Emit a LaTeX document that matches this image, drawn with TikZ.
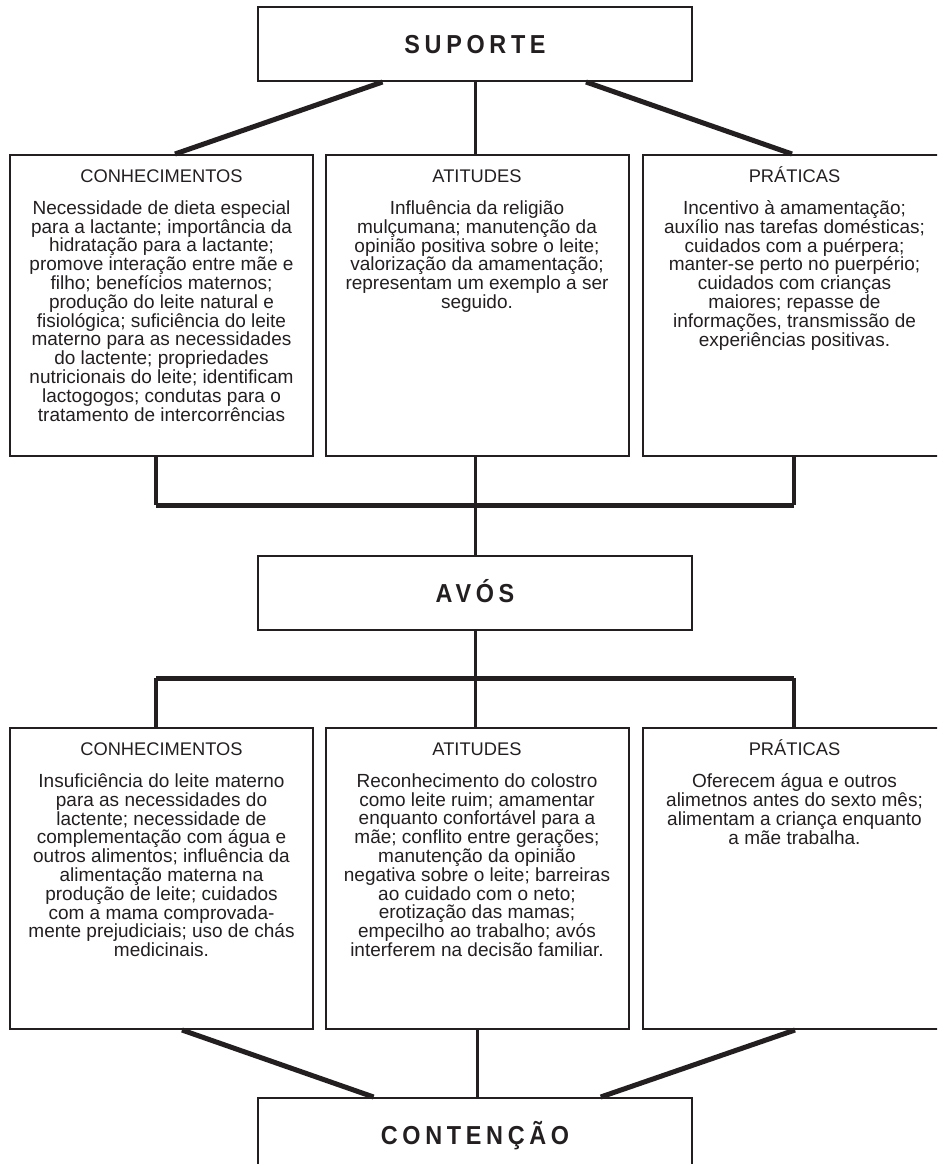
\documentclass[tikz,border=0pt]{standalone}
\usepackage{fontspec}
\setmainfont{Liberation Sans}
\newfontfamily\titlefont[LetterSpace=18,FakeStretch=0.9]{Liberation Sans}
\usepackage{tikz}
\usetikzlibrary{calc}
\usetikzlibrary{positioning}
\definecolor{ink}{HTML}{231F20}

\begin{document}
\begin{tikzpicture}[x=1pt,y=-1pt,
    title/.style={draw=ink,line width=2pt,fill=white,minimum width=434pt,minimum height=74pt,inner sep=0pt,text height=19pt,text depth=0pt,text=ink,font=\titlefont\bfseries\fontsize{26}{30}\selectfont},
    panel/.style={draw=ink,line width=2pt,minimum width=303pt,minimum height=301pt,inner sep=0pt},
    head/.style={inner sep=0pt,text height=13pt,text depth=0pt,text=ink,font=\fontsize{18.3}{22}\selectfont},
    body/.style={inner sep=0pt,align=center,text=ink,font=\fontsize{19}{18.8}\selectfont},
    diag/.style={ink,line width=5pt},
    stem/.style={ink,line width=3pt},
    leg/.style={ink,line width=4pt},
    rail/.style={ink,line width=5pt}]
        \useasboundingbox (0,0) rectangle (937,1164);
        \clip (0,0) rectangle (937,1164);
        \node[title] (S) at (475,44) {SUPORTE};
        \node[panel] (K1) at (161.5,305.5) {};
        \node[panel] (K2) at (477,305.5) {};
        \node[panel] (K3) at (794.5,305.5) {};
        \node[title] (A) at (475,592.5) {AVÓS};
        \node[panel] (L1) at (161.5,878.5) {};
        \node[panel] (L2) at (477,878.5) {};
        \node[panel] (L3) at (794.5,878.5) {};
        \node[title] (C) at (475,1135) {CONTENÇÃO};
        \coordinate (J1) at (475,505);
        \coordinate (J2) at (475,678);
        \node[head,below=15.3pt of K1.north] (K1h) {CONHECIMENTOS};
        \node[head,below=15.3pt of K2.north] (K2h) {ATITUDES};
        \node[head,below=15.3pt of K3.north] (K3h) {PRÁTICAS};
        \node[head,below=15.3pt of L1.north] (L1h) {CONHECIMENTOS};
        \node[head,below=15.3pt of L2.north] (L2h) {ATITUDES};
        \node[head,below=15.3pt of L3.north] (L3h) {PRÁTICAS};
        \node[body,below=17.7pt of K1h] (K1b) {Necessidade de dieta especial\\para a lactante; importância da\\hidratação para a lactante;\\promove interação entre mãe e\\filho; benefícios maternos;\\produção do leite natural e\\fisiológica; suficiência do leite\\materno para as necessidades\\do lactente; propriedades\\nutricionais do leite; identificam\\lactogogos; condutas para o\\tratamento de intercorrências};
        \node[body,below=17.7pt of K2h] (K2b) {Influência da religião\\mulçumana; manutenção da\\opinião positiva sobre o leite;\\valorização da amamentação;\\representam um exemplo a ser\\seguido.};
        \node[body,below=17.7pt of K3h] (K3b) {Incentivo à amamentação;\\auxílio nas tarefas domésticas;\\cuidados com a puérpera;\\manter-se perto no puerpério;\\cuidados com crianças\\maiores; repasse de\\informações, transmissão de\\experiências positivas.};
        \node[body,below=17.7pt of L1h] (L1b) {Insuficiência do leite materno\\para as necessidades do\\lactente; necessidade de\\complementação com água e\\outros alimentos; influência da\\alimentação materna na\\produção de leite; cuidados\\com a mama comprovada-\\mente prejudiciais; uso de chás\\medicinais.};
        \node[body,below=17.7pt of L2h] (L2b) {Reconhecimento do colostro\\como leite ruim; amamentar\\enquanto confortável para a\\mãe; conflito entre gerações;\\manutenção da opinião\\negativa sobre o leite; barreiras\\ao cuidado com o neto;\\erotização das mamas;\\empecilho ao trabalho; avós\\interferem na decisão familiar.};
        \node[body,below=17.7pt of L3h] (L3b) {Oferecem água e outros\\alimetnos antes do sexto mês;\\alimentam a criança enquanto\\a mãe trabalha.};
        \draw[diag] ([xshift=-92.5pt]S.south) -- ([xshift=13.5pt]K1.north);
        \draw[stem] (S.south) -- (S.south |- K2.north);
        \draw[diag] ([xshift=111pt]S.south) -- ([xshift=-2.5pt]K3.north);
        \draw[leg] ([xshift=-5.5pt]K1.south) -- ([xshift=-5.5pt]K1.south |- J1);
        \draw[leg] ([xshift=-0.7pt]K3.south) -- ([xshift=-0.7pt]K3.south |- J1);
        \draw[rail] ([xshift=-5.5pt]K1.south |- J1) -- ([xshift=-0.7pt]K3.south |- J1);
        \draw[stem] (A.north |- K2.south) -- (A.north);
        \draw[stem] (A.south) -- (A.south |- L2.north);
        \draw[rail] ([xshift=-5.5pt]L1.north |- J2) -- ([xshift=-0.7pt]L3.north |- J2);
        \draw[leg] ([xshift=-5.5pt]L1.north |- J2) -- ([xshift=-5.5pt]L1.north);
        \draw[leg] ([xshift=-0.7pt]L3.north |- J2) -- ([xshift=-0.7pt]L3.north);
        \draw[diag] ([xshift=20.5pt]L1.south) -- ([xshift=-101.4pt]C.north);
        \draw[stem] (L2.south) -- ([xshift=2pt]C.north);
        \draw[diag] ([xshift=0.5pt]L3.south) -- ([xshift=125.7pt]C.north);
\end{tikzpicture}
\end{document}
